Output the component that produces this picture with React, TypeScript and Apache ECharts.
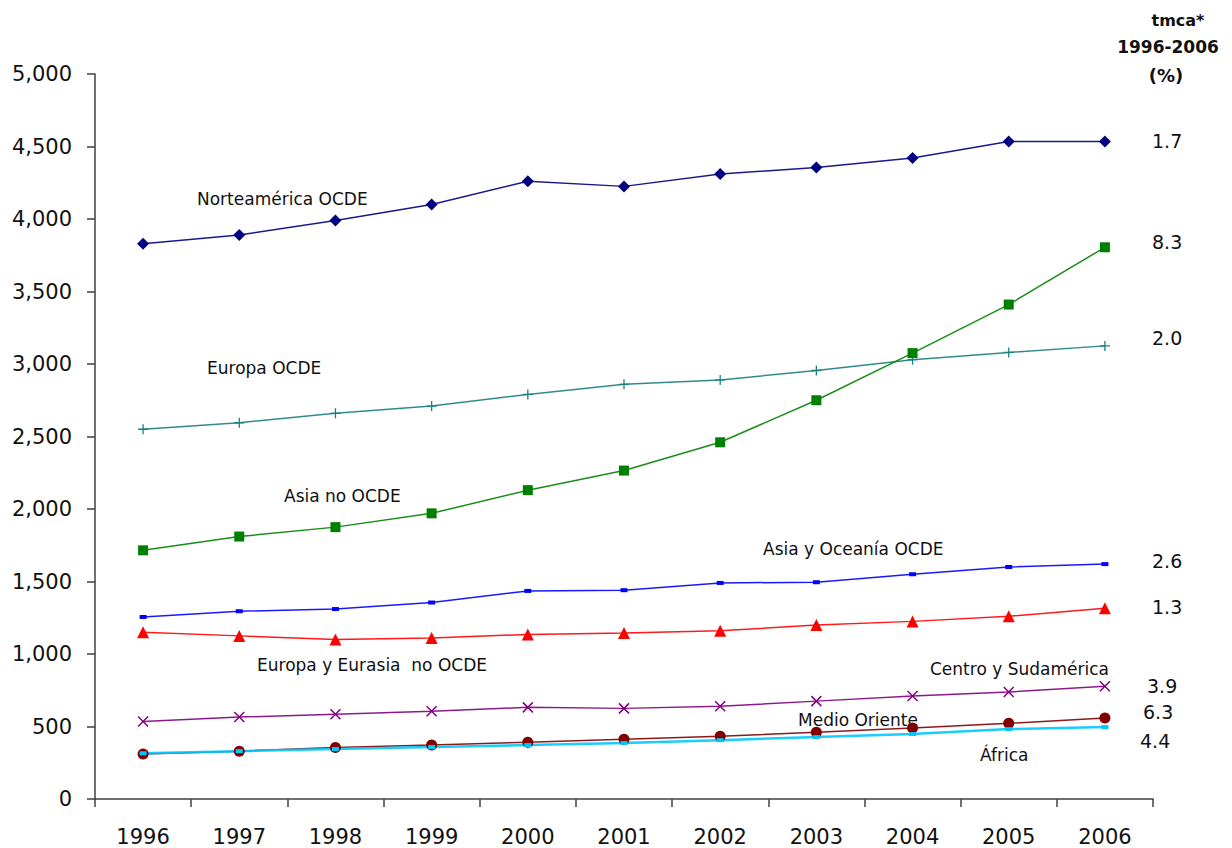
import React, { useEffect, useRef } from "react";
import * as echarts from "echarts";

const years = ["1996", "1997", "1998", "1999", "2000", "2001", "2002", "2003", "2004", "2005", "2006"];

const norteamericaOCDE = [3830, 3890, 3990, 4100, 4260, 4225, 4310, 4355, 4420, 4535, 4535];
const europaOCDE = [2550, 2595, 2660, 2710, 2790, 2860, 2890, 2955, 3030, 3080, 3125];
const asiaNoOCDE = [1715, 1810, 1875, 1970, 2130, 2265, 2460, 2750, 3075, 3410, 3805];
const asiaOceaniaOCDE = [1255, 1295, 1310, 1355, 1435, 1440, 1490, 1495, 1550, 1600, 1620];
const europaEurasiaNoOCDE = [1150, 1125, 1100, 1110, 1135, 1145, 1160, 1200, 1225, 1260, 1315];
const centroSudamerica = [535, 565, 585, 605, 632, 625, 640, 675, 710, 738, 778];
const medioOriente = [310, 330, 355, 372, 392, 412, 432, 460, 490, 522, 558];
const africa = [315, 330, 345, 358, 372, 386, 406, 427, 448, 482, 496];

const seriesNames = [
  "Norteamérica OCDE",
  "Europa OCDE",
  "Asia no OCDE",
  "Asia y Oceanía OCDE",
  "Europa y Eurasia  no OCDE",
  "Centro y Sudamérica",
  "Medio Oriente",
  "África",
];
const tmca = ["1.7", "2.0", "8.3", "2.6", "1.3", "3.9", "6.3", "4.4"];
const yTicks = [0, 500, 1000, 1500, 2000, 2500, 3000, 3500, 4000, 4500, 5000];

const FONT = "DejaVu Sans";

export default function App() {
  const ref = useRef<HTMLDivElement>(null);
  useEffect(() => {
    if (!ref.current) return;
    const chart = echarts.init(ref.current, null, { renderer: "svg" });

    const mk = (name: string, data: number[], color: string, symbol: string, size: any, lw = 1.5, extra: any = {}) => ({
      type: "line",
      name,
      data,
      symbol,
      symbolSize: size,
      showSymbol: true,
      lineStyle: { color, width: lw, opacity: 0.9 },
      itemStyle: { color, borderColor: color, borderWidth: 0, ...extra },
      z: 2,
    });

    const label = (text: string, x: number, y: number, size = 17, align = "left", weight = "normal") => ({
      type: "text",
      x,
      y,
      style: {
        text,
        fontSize: size,
        fontFamily: FONT,
        fontWeight: weight,
        fill: "#111",
        textAlign: align,
        align,
        textVerticalAlign: "middle",
        verticalAlign: "middle",
      },
    });

    chart.setOption({
      animation: false,
      backgroundColor: "#fff",
      grid: { left: 95, right: 79, top: 74, bottom: 49, containLabel: false },
      xAxis: {
        type: "category",
        data: years,
        boundaryGap: true,
        axisLine: { lineStyle: { color: "#404040", width: 1.5 } },
        axisTick: { show: true, length: 8, inside: false, lineStyle: { color: "#404040", width: 1.5 } },
        axisLabel: { color: "#111", fontSize: 21, fontFamily: FONT, margin: 27 },
        splitLine: { show: false },
      },
      yAxis: {
        type: "value",
        min: yTicks[0],
        max: yTicks[yTicks.length - 1],
        interval: 500,
        axisLine: { show: true, lineStyle: { color: "#404040", width: 1.5 } },
        axisTick: { show: true, length: 8, lineStyle: { color: "#404040", width: 1.5 } },
        axisLabel: {
          color: "#111",
          fontSize: 21,
          fontFamily: FONT,
          margin: 23,
          formatter: (v: number) => v.toLocaleString("en-US"),
        },
        splitLine: { show: false },
      },
      series: [
        mk(seriesNames[0], norteamericaOCDE, "#000080", "diamond", 12),
        mk(seriesNames[1], europaOCDE, "#1a8080", "path://M5,0L5,10M0,5L10,5", 10, 1.5, { borderWidth: 1.3, color: "none", borderColor: "#1a8080" }),
        mk(seriesNames[2], asiaNoOCDE, "#008000", "rect", 10),
        mk(seriesNames[3], asiaOceaniaOCDE, "#0000ff", "rect", [7, 4]),
        mk(seriesNames[4], europaEurasiaNoOCDE, "#ff0000", "triangle", 12),
        mk(seriesNames[5], centroSudamerica, "#800080", "path://M0,0L10,10M10,0L0,10", 10, 1.5, { borderWidth: 1.5, color: "none", borderColor: "#800080" }),
        mk(seriesNames[6], medioOriente, "#800000", "circle", 11),
        mk(seriesNames[7], africa, "#00c8ff", "rect", [7, 4], 2.5),
      ],
      graphic: [
        label("tmca*", 1178, 20, 16, "center", "bold"),
        label("1996-2006", 1168, 47, 17, "center", "bold"),
        label("(%)", 1166, 75, 18, "center", "bold"),
        label(tmca[0], 1152, 141, 19),
        label(tmca[2], 1152, 242, 19),
        label(tmca[1], 1152, 338, 19),
        label(tmca[3], 1152, 561, 19),
        label(tmca[4], 1152, 607, 19),
        label(tmca[5], 1147, 686, 19),
        label(tmca[6], 1143, 712, 19),
        label(tmca[7], 1140, 741, 19),
        label(seriesNames[0], 197, 199),
        label(seriesNames[1], 207, 368),
        label(seriesNames[2], 284, 496),
        label(seriesNames[3], 763, 549),
        label(seriesNames[4], 257, 665),
        label(seriesNames[5], 930, 669),
        label(seriesNames[6], 798, 720),
        label(seriesNames[7], 980, 755),
      ],
    });
    return () => chart.dispose();
  }, []);
  return <div ref={ref} style={{ position: "fixed", left: 0, top: 0, width: 1232, height: 848 }} />;
}
